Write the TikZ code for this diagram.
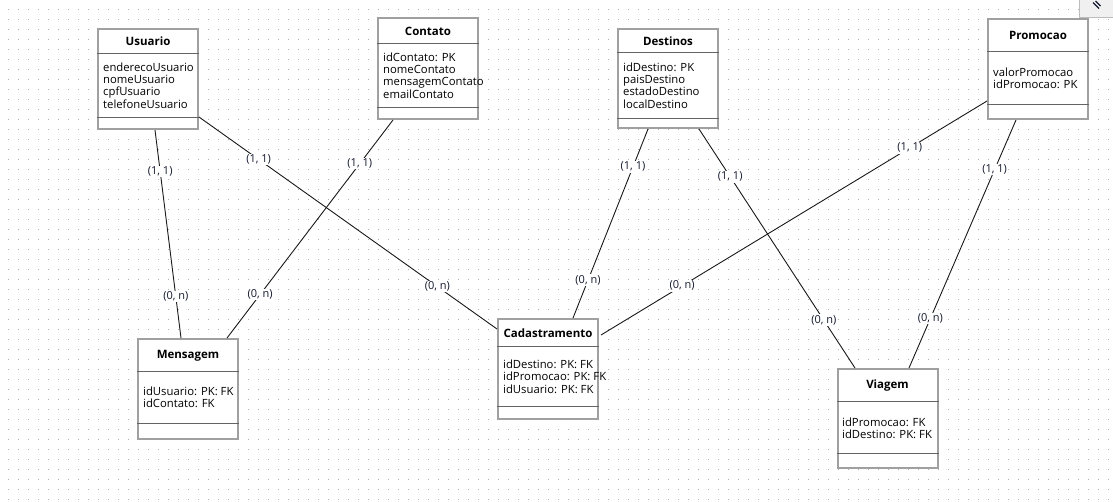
\documentclass[tikz,border=0pt]{standalone}
\usepackage{fontspec}
\setmainfont{Open Sans}
\usepackage{tikz}
\usetikzlibrary{positioning}

\definecolor{borda}{RGB}{160,160,160}
\definecolor{divisao}{RGB}{100,100,100}
\definecolor{ponto}{RGB}{175,175,175}
\definecolor{rotulo}{RGB}{20,26,45}
\definecolor{painel}{RGB}{240,240,240}

\begin{document}
\begin{tikzpicture}[
    x=1pt, y=1pt,
    entidade/.style={draw=borda, line width=2pt, fill=white, rectangle, minimum width=100, inner sep=0pt},
    titulo/.style={font=\fontsize{11.5}{12}\selectfont\bfseries, inner sep=0pt},
    campos/.style={font=\fontsize{11.3}{12.4}\selectfont, align=left, anchor=west, inner sep=0pt},
    divisa/.style={draw=divisao, line width=1pt},
    liga/.style={draw=black!90, line width=0.9pt},
    card/.style={fill=white, inner sep=1pt, text=rotulo, font=\fontsize{11}{11}\selectfont}
]
\useasboundingbox (0,0) rectangle (1113,-501);

% grid of dots
\foreach \i in {0,...,110}
    \foreach \j in {0,...,49}
        \fill[ponto] (7.5+10*\i,-8.5-10*\j) rectangle ++(1,-1);

% top right panel
\fill[painel] (1079,0) rectangle (1113,-17);
\draw[borda!70, line width=0.8pt] (1079,0) |- (1113,-17);
\draw[rotulo, line width=1.3pt] (1093,-2.5) -- (1099,-8.5);
\draw[rotulo, line width=1.3pt] (1095.5,-1) -- (1100.5,-6);

% Usuario
\node[entidade, minimum height=100] (usuario) at (148,-79) {};
\node[titulo] (usuario_t) at (148,-41.5) {Usuario};
\draw[divisa] ([yshift=-25]usuario.north west) -- ([yshift=-25]usuario.north east);
\draw[divisa] ([yshift=13]usuario.south west) -- ([yshift=13]usuario.south east);
\node[campos] (usuario_c) at (103,-85.5) {enderecoUsuario\\nomeUsuario\\cpfUsuario\\telefoneUsuario};

% Contato
\node[entidade, minimum height=101] (contato) at (428,-68.5) {};
\node[titulo] (contato_t) at (428,-31) {Contato};
\draw[divisa] ([yshift=-26]contato.north west) -- ([yshift=-26]contato.north east);
\draw[divisa] ([yshift=13]contato.south west) -- ([yshift=13]contato.south east);
\node[campos] (contato_c) at (383,-75.5) {idContato: PK\\nomeContato\\mensagemContato\\emailContato};

% Destinos
\node[entidade, minimum height=99] (destinos) at (668,-78.5) {};
\node[titulo] (destinos_t) at (668,-41) {Destinos};
\draw[divisa] ([yshift=-24]destinos.north west) -- ([yshift=-24]destinos.north east);
\draw[divisa] ([yshift=11]destinos.south west) -- ([yshift=11]destinos.south east);
\node[campos] (destinos_c) at (623,-85.5) {idDestino: PK\\paisDestino\\estadoDestino\\localDestino};

% Promocao
\node[entidade, minimum height=100] (promocao) at (1038,-69) {};
\node[titulo] (promocao_t) at (1038,-35.5) {Promocao};
\draw[divisa] ([yshift=-33]promocao.north west) -- ([yshift=-33]promocao.north east);
\draw[divisa] ([yshift=16]promocao.south west) -- ([yshift=16]promocao.south east);
\node[campos] (promocao_c) at (993,-78) {valorPromocao\\idPromocao: PK};

% Mensagem
\node[entidade, minimum height=100] (mensagem) at (188,-389) {};
\node[titulo] (mensagem_t) at (188,-355.5) {Mensagem};
\draw[divisa] ([yshift=-33]mensagem.north west) -- ([yshift=-33]mensagem.north east);
\draw[divisa] ([yshift=17]mensagem.south west) -- ([yshift=17]mensagem.south east);
\node[campos] (mensagem_c) at (143,-397.5) {idUsuario: PK: FK\\idContato: FK};

% Cadastramento
\node[entidade, minimum height=100] (cadastramento) at (548,-369) {};
\node[titulo] (cadastramento_t) at (548,-333) {Cadastramento};
\draw[divisa] ([yshift=-28]cadastramento.north west) -- ([yshift=-28]cadastramento.north east);
\draw[divisa] ([yshift=14]cadastramento.south west) -- ([yshift=14]cadastramento.south east);
\node[campos] (cadastramento_c) at (503,-376.5) {idDestino: PK: FK\\idPromocao: PK: FK\\idUsuario: PK: FK};

% Viagem
\node[entidade, minimum height=99] (viagem) at (887.5,-418.5) {};
\node[titulo] (viagem_t) at (887.5,-385.5) {Viagem};
\draw[divisa] ([yshift=-33]viagem.north west) -- ([yshift=-33]viagem.north east);
\draw[divisa] ([yshift=16]viagem.south west) -- ([yshift=16]viagem.south east);
\node[campos] (viagem_c) at (842,-428.5) {idPromocao: FK\\idDestino: PK: FK};

% Relacionamentos
\draw[liga] ([xshift=7]usuario.south) -- node[card, pos=0.2] {(1, 1)} node[card, pos=0.8] {(0, n)} ([xshift=-7]mensagem.north);
\draw[liga] ([yshift=13]usuario.south east) -- node[card, pos=0.2] {(1, 1)} node[card, pos=0.8] {(0, n)} ([yshift=-11]cadastramento.north west);
\draw[liga] ([xshift=-35]contato.south) -- node[card, pos=0.2] {(1, 1)} node[card, pos=0.8] {(0, n)} ([xshift=39]mensagem.north);
\draw[liga] ([xshift=-20]destinos.south) -- node[card, pos=0.2] {(1, 1)} node[card, pos=0.8] {(0, n)} ([xshift=25]cadastramento.north);
\draw[liga] ([xshift=31]destinos.south) -- node[card, pos=0.2] {(1, 1)} node[card, pos=0.8] {(0, n)} ([xshift=-32.5]viagem.north);
\draw[liga] ([yshift=19]promocao.south west) -- node[card, pos=0.2] {(1, 1)} node[card, pos=0.79] {(0, n)} ([xshift=2,yshift=-17]cadastramento.north east);
\draw[liga] ([xshift=-22]promocao.south) -- node[card, pos=0.2] {(1, 1)} node[card, pos=0.8] {(0, n)} ([xshift=21.5]viagem.north);

\end{tikzpicture}
\end{document}
